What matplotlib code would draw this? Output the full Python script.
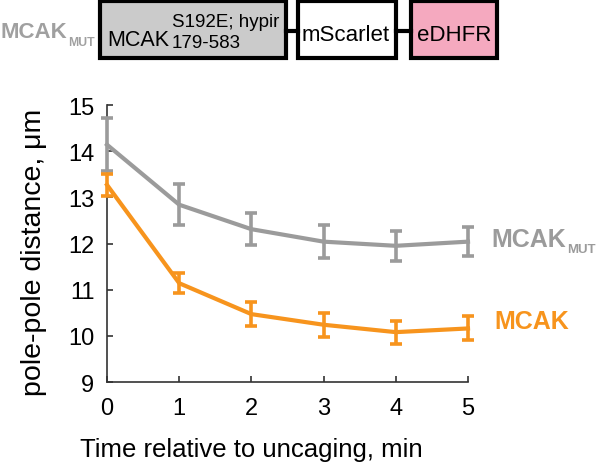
"""
Pole-pole distance after uncaging: MCAK vs MCAK_MUT, with construct diagram on top.
"""

import matplotlib

matplotlib.use("Agg")
import matplotlib.pyplot as plt
from matplotlib.patches import Rectangle

plt.rcParams["font.family"] = ["Liberation Sans", "DejaVu Sans"]

# --- Data ---
time_min = [0, 1, 2, 3, 4, 5]

mcak_mut_mean = [14.14, 12.84, 12.31, 12.04, 11.95, 12.04]
mcak_mut_err = [0.57, 0.44, 0.35, 0.36, 0.32, 0.32]

mcak_mean = [13.27, 11.14, 10.47, 10.24, 10.08, 10.16]
mcak_err = [0.24, 0.22, 0.26, 0.26, 0.25, 0.26]

x_ticks = [0, 1, 2, 3, 4, 5]
y_ticks = [9, 10, 11, 12, 13, 14, 15]

GRAY = "#9b9b9b"
ORANGE = "#f7941d"
SPINE = "#333333"

W, H = 598, 464


def main():
    fig = plt.figure(figsize=(W / 100, H / 100), dpi=100)

    # --- Main plot ---
    ax = fig.add_axes([107 / W, 1 - 383 / H, 361 / W, 277 / H])
    for mean, err, col in [(mcak_mut_mean, mcak_mut_err, GRAY), (mcak_mean, mcak_err, ORANGE)]:
        ax.errorbar(time_min, mean, yerr=err, color=col, linewidth=3.0,
                    elinewidth=2.6, capsize=4, capthick=2.6, clip_on=False, zorder=3)

    ax.set_xlim(0, 5)
    ax.set_ylim(9, 15)
    ax.set_xticks(x_ticks)
    ax.set_yticks(y_ticks)
    ax.tick_params(direction="in", length=4, width=1.2, color=SPINE,
                   labelsize=17, pad=9)
    ax.tick_params(axis="x", pad=11)
    for side in ["top", "right"]:
        ax.spines[side].set_visible(False)
    for side in ["left", "bottom"]:
        ax.spines[side].set_color(SPINE)
        ax.spines[side].set_linewidth(1.2)

    ax.set_xlabel("Time relative to uncaging, min", fontsize=18.5)
    ax.xaxis.set_label_coords(0.40, -0.2)
    ax.set_ylabel("pole-pole distance, μm", fontsize=20.5)
    ax.yaxis.set_label_coords(-0.165, 0.47)

    # series labels on the right
    t1 = ax.text(5.33, 12.1, "MCAK", color=GRAY, fontsize=18, fontweight="bold",
                 va="center", ha="left")
    ax.annotate("MUT", xy=(1, 0), xycoords=t1, xytext=(0.5, 1), textcoords="offset points",
                color=GRAY, fontsize=9.5, fontweight="bold", va="center")
    ax.text(5.36, 10.32, "MCAK", color=ORANGE, fontsize=18, fontweight="bold",
            va="center", ha="left")

    # --- Construct diagram (pixel coords) ---
    top = fig.add_axes([0, 0, 1, 1], zorder=-1)
    top.set_xlim(0, W)
    top.set_ylim(H, 0)
    top.axis("off")

    boxes = [(100, 286, "#cbcbcb"), (298, 396, "white"), (411, 497, "#f5a9bf")]
    for x0, x1, fc in boxes:
        top.add_patch(Rectangle((x0, 1.5), x1 - x0, 57.5, facecolor=fc,
                                edgecolor="black", linewidth=3))
    top.plot([286, 298], [32, 32], color="black", linewidth=3)
    top.plot([396, 411], [32, 32], color="black", linewidth=3)

    top.text(107, 46, "MCAK", fontsize=15.5, va="baseline", ha="left")
    top.text(172, 27, "S192E; hypir", fontsize=13.5, va="baseline", ha="left")
    top.text(172, 48, "179-583", fontsize=13.5, va="baseline", ha="left")
    top.text(346, 41, "mScarlet", fontsize=16, va="baseline", ha="center")
    top.text(454, 41, "eDHFR", fontsize=16, va="baseline", ha="center")

    h1 = top.text(0, 38, "MCAK", color="#a0a0a0", fontsize=16, fontweight="bold",
                  va="baseline", ha="left")
    top.annotate("MUT", xy=(1, 0), xycoords=h1, xytext=(1, 0), textcoords="offset points",
                 color="#a0a0a0", fontsize=8.8, fontweight="bold", va="center")

    fig.savefig("out.png", dpi=100)


if __name__ == "__main__":
    main()
